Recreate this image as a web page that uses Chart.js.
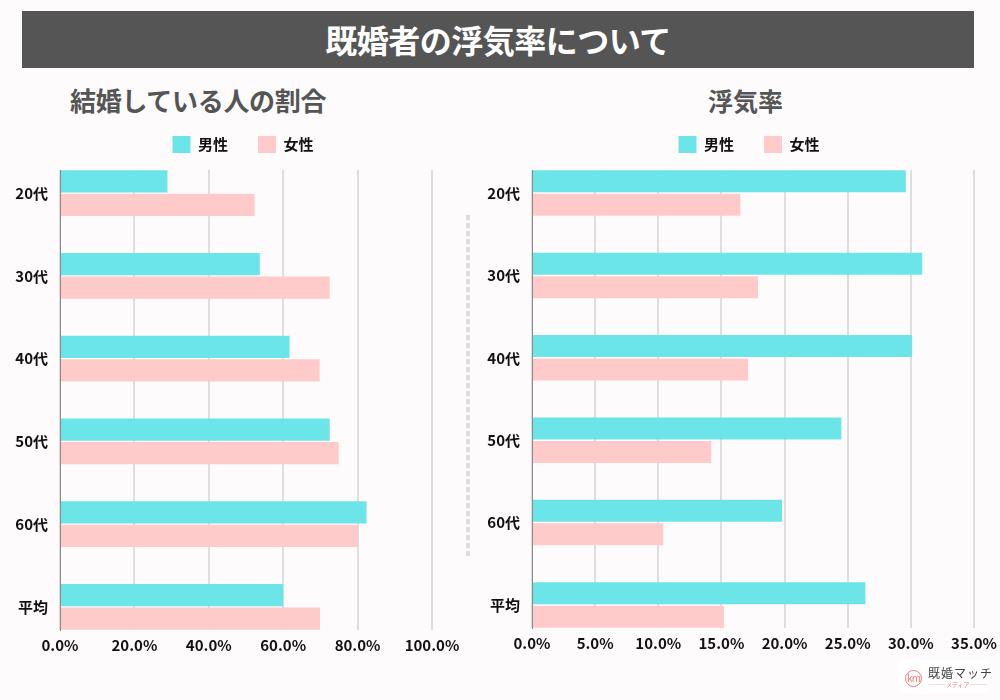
<!DOCTYPE html>
<html lang="ja">
<head>
<meta charset="utf-8">
<script src="https://cdn.jsdelivr.net/npm/chart.js@4.4.1/dist/chart.umd.min.js"></script>
<style>
  html, body { margin: 0; padding: 0; }
  body { width: 1000px; height: 700px; background: #fefbfc; position: relative; overflow: hidden;
         font-family: "Noto Sans CJK JP", "Noto Sans", sans-serif; }
  #banner { position: absolute; left: 22px; top: 11px; width: 952px; height: 57px; background: #555555;
            color: #fff; font-weight: bold; font-size: 32px; line-height: 57px; text-align: center; letter-spacing: -0.5px; }
  .sub { position: absolute; color: #555555; font-weight: bold; white-space: nowrap; }
  #sub1 { left: 70px; top: 82px; font-size: 26px; line-height: 36px; letter-spacing: -0.3px; }
  #sub2 { left: 708px; top: 82px; font-size: 25px; line-height: 36px; }
  #divider { position: absolute; left: 466px; top: 215px; width: 4px; height: 341px;
             background: repeating-linear-gradient(to bottom, #dddddd 0 5px, transparent 5px 8px); }
  #c1wrap { position: absolute; left: 0; top: 100px; width: 486px; height: 578px; }
  #c2wrap { position: absolute; left: 486px; top: 101px; width: 530px; height: 578px; }
  #logo { position: absolute; left: 900px; top: 660px; width: 88px; height: 33px; background: #ffffff; }
  #logo .circ { position: absolute; left: 5px; top: 10px; width: 15px; height: 15px; border: 1px solid #f07a7a;
                border-radius: 50%; color: #f07a7a; font-size: 10px; line-height: 14px; text-align: center; letter-spacing: -1px; }
  #logo .name { position: absolute; left: 28px; top: 6px; font-size: 12px; line-height: 14px; color: #444;
                font-family: "Noto Sans CJK JP", serif; letter-spacing: 1px; white-space: nowrap; }
  #logo .media { position: absolute; left: 28px; top: 21px; font-size: 6px; line-height: 8px; color: #f07a7a; white-space: nowrap; }
</style>
</head>
<body>
<div id="banner">既婚者の浮気率について</div>
<div class="sub" id="sub1">結婚している人の割合</div>
<div class="sub" id="sub2">浮気率</div>
<div id="divider"></div>
<div id="c1wrap"><canvas id="c1"></canvas></div>
<div id="c2wrap"><canvas id="c2"></canvas></div>
<div id="logo"><div class="circ">km</div><div class="name">既婚マッチ</div><div class="media">———メディア———</div></div>
<script>
// ---- data ----
const categories = ['20代', '30代', '40代', '50代', '60代', '平均'];
const seriesNames = ['男性', '女性'];
const marriedMale   = [28.9, 53.7, 61.7, 72.5, 82.4, 60.0];
const marriedFemale = [52.3, 72.5, 69.8, 74.9, 80.1, 69.9];
const cheatMale     = [29.6, 30.9, 30.1, 24.5, 19.8, 26.4];
const cheatFemale   = [16.5, 17.9, 17.1, 14.2, 10.4, 15.2];
const marriedTicks = [0, 20, 40, 60, 80, 100];
const cheatTicks   = [0, 5, 10, 15, 20, 25, 30, 35];

const MALE_COLOR = '#6ce5e8';
const FEMALE_COLOR = '#ffcaca';
const FONT = '"Noto Sans CJK JP", "Noto Sans", sans-serif';

// add extra space below legend
const legendGap = {
  id: 'legendGap',
  beforeLayout(chart, args, opts) {
    const lg = chart.legend;
    if (lg && !lg._gapPatched) {
      const orig = lg.fit;
      lg.fit = function () { orig.call(this); this.height += opts.extra || 0; };
      lg._gapPatched = true;
    }
  }
};

function toPoints(arr) { return arr.map((v, i) => ({ x: v, y: i })); }

function makeChart(id, male, female, ticks, pad, yPad, leftW, rightW) {
  const maxTick = ticks[ticks.length - 1];
  return new Chart(document.getElementById(id), {
    type: 'bar',
    data: {
      datasets: [
        { label: seriesNames[0], data: toPoints(male), backgroundColor: MALE_COLOR, borderWidth: 0,
          barPercentage: 0.94, categoryPercentage: 0.57 },
        { label: seriesNames[1], data: toPoints(female), backgroundColor: FEMALE_COLOR, borderWidth: 0,
          barPercentage: 0.94, categoryPercentage: 0.57 }
      ]
    },
    plugins: [legendGap],
    options: {
      indexAxis: 'y',
      responsive: true,
      maintainAspectRatio: false,
      animation: false,
      layout: { padding: pad },
      plugins: {
        legendGap: { extra: 7 },
        tooltip: { enabled: false },
        title: { display: false },
        legend: {
          display: true,
          position: 'top',
          labels: {
            boxWidth: 18, boxHeight: 17, padding: 30, color: '#111',
            font: { family: FONT, size: 15, weight: 'bold' }
          }
        }
      },
      scales: {
        x: {
          type: 'linear',
          min: 0, max: maxTick,
          afterBuildTicks: (s) => { s.ticks = ticks.map(v => ({ value: v })); },
          grid: { display: true, color: '#dedede', lineWidth: 2, drawTicks: false },
          border: { display: false },
          ticks: {
            padding: 6, color: '#111',
            font: { family: FONT, size: 15, weight: 'bold' },
            callback: (v) => Number(v).toFixed(1) + '%'
          }
        },
        y: {
          type: 'linear',
          position: 'left',
          reverse: true,
          offset: false,
          min: -yPad, max: categories.length - 1 + yPad,
          afterBuildTicks: (s) => { s.ticks = categories.map((c, i) => ({ value: i })); },
          afterFit: (s) => { s.width = leftW; },
          grid: { display: false, drawTicks: false },
          border: { display: true, color: '#8a8a8a', width: 1 },
          ticks: {
            padding: 12, color: '#111', autoSkip: false,
            font: { family: FONT, size: 15, weight: 'bold' },
            callback: (v) => categories[v] !== undefined ? categories[v] : ''
          }
        },
        ySpacer: {
          type: 'linear',
          position: 'right',
          min: 0, max: 1,
          afterFit: (s) => { s.width = rightW; },
          grid: { display: false, drawTicks: false },
          border: { display: false },
          ticks: { display: false }
        }
      }
    }
  });
}

makeChart('c1', marriedMale, marriedFemale, marriedTicks,
  { top: 6, left: 0, right: 0, bottom: 18 }, 0.28, 60, 54);
makeChart('c2', cheatMale, cheatFemale, cheatTicks,
  { top: 5, left: 0, right: 4, bottom: 21 }, 0.28, 46, 38);
</script>
</body>
</html>
